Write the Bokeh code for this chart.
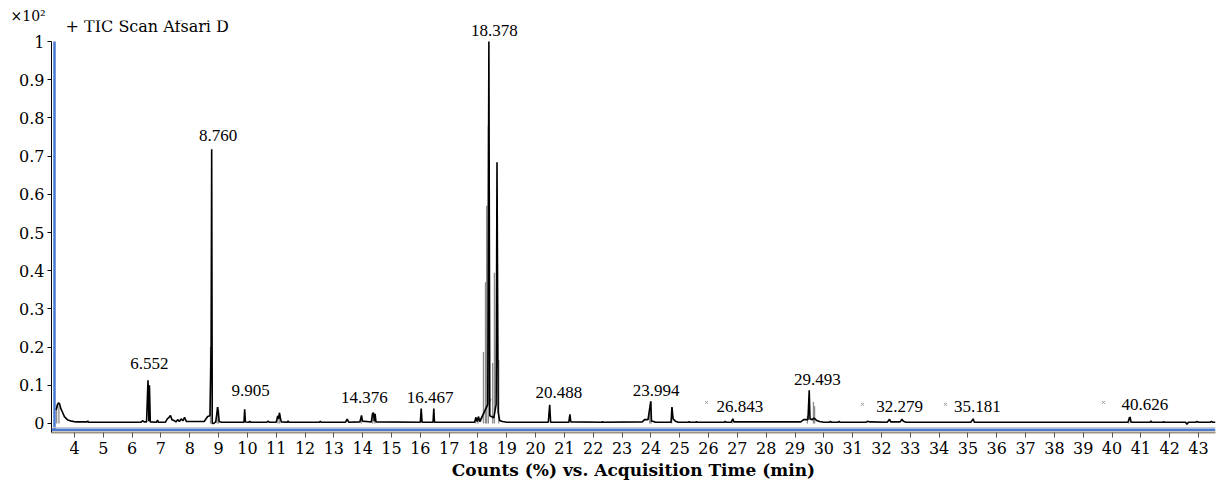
from bokeh.plotting import figure
from bokeh.models import Range1d, FixedTicker, Span, Label, LabelSet, ColumnDataSource, Title
from bokeh.embed import file_html
from bokeh.resources import INLINE

# ---------------- data ----------------
# main (black) TIC trace: acquisition time (min) vs counts (x10^2 %)
black_t = [3.36, 3.40, 3.44, 3.48, 3.52, 3.58, 3.65, 3.75, 3.90, 4.05,
           4.44, 4.46, 4.48, 6.30, 6.36, 6.42, 6.50, 6.55, 6.58, 6.60, 6.63,
           6.85, 6.88, 6.91, 7.15, 7.22, 7.28, 7.33, 7.38, 7.45, 7.52, 7.58,
           7.64, 7.70, 7.76, 7.82, 7.88, 8.50, 8.62, 8.70, 8.74, 8.76, 8.78,
           8.83, 8.90, 8.97, 9.02, 9.10, 9.88, 9.905, 9.93, 10.05, 10.08, 10.11,
           10.68, 10.72, 10.76, 11.00, 11.05, 11.08, 11.11, 11.15, 11.18,
           11.38, 11.41, 11.44, 12.50, 12.53, 12.56, 13.40, 13.46, 13.52,
           13.90, 13.93, 13.96, 13.99, 14.30, 14.34, 14.376, 14.40, 14.43, 14.46,
           16.00, 16.03, 16.06, 16.44, 16.467, 16.49, 17.88, 17.93, 17.97,
           18.02, 18.06, 18.34, 18.378, 18.41, 18.55, 18.63, 18.66, 18.70,
           18.75, 18.85, 19.00, 20.44, 20.488, 20.52, 21.15, 21.19, 21.22,
           22.30, 22.32, 22.34, 23.70, 23.78, 23.90, 23.994, 24.02, 24.10,
           24.15, 24.70, 24.73, 24.77, 24.85, 24.95, 25.30, 25.33, 25.36,
           25.55, 25.58, 25.61, 26.55, 26.58, 26.61, 26.78, 26.843, 26.88,
           29.20, 29.30, 29.45, 29.493, 29.52, 29.60, 29.66, 29.75, 29.85,
           30.00, 30.20, 30.23, 30.26, 30.50, 30.53, 30.56, 31.00, 31.48,
           31.52, 31.60, 32.20, 32.279, 32.32, 32.65, 32.71, 32.76, 32.85,
           35.10, 35.181, 35.22, 40.55, 40.626, 40.66, 41.32, 41.35, 41.38,
           41.76, 41.79, 41.82, 42.55, 42.60, 42.65, 42.90, 42.95, 43.00,
           43.40, 43.45, 43.50, 43.59]
black_y = [0.035, 0.045, 0.054, 0.052, 0.040, 0.030, 0.018, 0.010, 0.006, 0.004,
           0.004, 0.007, 0.003, 0.003, 0.007, 0.004, 0.004, 0.113, 0.006, 0.100, 0.004,
           0.003, 0.009, 0.003, 0.003, 0.012, 0.016, 0.021, 0.010, 0.008, 0.004, 0.010,
           0.005, 0.012, 0.007, 0.016, 0.005, 0.005, 0.018, 0.020, 0.200, 0.718, 0.000,
           0.000, 0.004, 0.043, 0.005, 0.003, 0.003, 0.037, 0.004, 0.003, 0.006, 0.003,
           0.003, 0.006, 0.003, 0.003, 0.020, 0.012, 0.028, 0.012, 0.004,
           0.003, 0.007, 0.003, 0.003, 0.006, 0.003, 0.003, 0.011, 0.003,
           0.004, 0.012, 0.021, 0.006, 0.004, 0.026, 0.028, 0.006, 0.025, 0.004,
           0.003, 0.039, 0.003, 0.003, 0.039, 0.003, 0.003, 0.016, 0.005,
           0.018, 0.005, 0.050, 1.000, 0.020, 0.015, 0.050, 0.684, 0.030,
           0.008, 0.005, 0.003, 0.003, 0.049, 0.003, 0.003, 0.024, 0.004,
           0.003, 0.005, 0.003, 0.004, 0.010, 0.010, 0.058, 0.006, 0.005,
           0.003, 0.003, 0.043, 0.012, 0.006, 0.003, 0.003, 0.005, 0.003,
           0.003, 0.005, 0.003, 0.003, 0.006, 0.003, 0.003, 0.012, 0.004,
           0.004, 0.010, 0.010, 0.087, 0.012, 0.010, 0.014, 0.008, 0.005,
           0.003, 0.003, 0.006, 0.003, 0.003, 0.006, 0.003, 0.003, 0.003,
           0.006, 0.004, 0.003, 0.011, 0.004, 0.004, 0.011, 0.006, 0.003,
           0.003, 0.012, 0.003, 0.003, 0.017, 0.003, 0.003, 0.007, 0.003,
           0.003, 0.005, 0.003, 0.003, -0.002, 0.003, 0.003, 0.005, 0.003,
           0.003, 0.005, 0.003, 0.003]

# grey (integrated / overlapping) component peaks
gray_t = [3.38, 3.46, 8.72, 8.95, 9.00, 11.06, 11.12, 13.95, 14.35, 14.42,
          17.92, 18.00, 18.19, 18.26, 18.30, 18.36, 18.51, 18.57, 18.72,
          23.96, 24.00, 24.72, 26.82, 29.43, 29.64, 29.68, 40.58]
gray_h = [0.050, 0.045, 0.200, 0.043, 0.035, 0.020, 0.025, 0.018, 0.024, 0.022,
          0.016, 0.016, 0.187, 0.370, 0.570, 0.780, 0.158, 0.395, 0.166,
          0.035, 0.058, 0.040, 0.010, 0.020, 0.056, 0.045, 0.017]
ramp_t = [18.08, 18.45]
ramp_y = [0.004, 0.065]

# peak retention-time labels
peak_labels = ["6.552", "8.760", "9.905", "14.376", "16.467", "18.378", "20.488",
               "23.994", "26.843", "29.493", "32.279", "35.181", "40.626"]
label_x = [6.60, 8.98, 10.11, 14.06, 16.34, 18.57, 20.81, 24.18, 27.09, 29.78,
           32.63, 35.33, 41.14]
label_y = [0.158, 0.755, 0.087, 0.068, 0.068, 1.029, 0.082, 0.087, 0.045, 0.116,
           0.045, 0.045, 0.050]
mark_x = [25.93, 31.34, 34.22, 39.70]
mark_y = [0.055, 0.050, 0.050, 0.055]

x_ticks = list(range(4, 44))
y_ticks = [0, 0.1, 0.2, 0.3, 0.4, 0.5, 0.6, 0.7, 0.8, 0.9, 1]
y_tick_labels = ["0", "0.1", "0.2", "0.3", "0.4", "0.5", "0.6", "0.7", "0.8", "0.9", "1"]

FONT = "DejaVu Serif"
BLUE = "#4a7ad0"
X0, X1 = 3.202, 43.59
Y0, Y1 = -0.0237, 1.0553

# ---------------- figure ----------------
p = figure(width=1219, height=498, output_backend="svg", toolbar_location=None,
           x_range=Range1d(X0, X1), y_range=Range1d(Y0, Y1),
           min_border_left=51, min_border_right=4, min_border_top=20,
           min_border_bottom=66)
p.outline_line_color = None
p.xgrid.visible = False
p.ygrid.visible = False

p.add_layout(Title(text="×10²", align="left", offset=-41, standoff=-7,
                   text_font=FONT, text_font_size="14px", text_font_style="normal",
                   text_color="black"), "above")

# axes
p.yaxis.bounds = (Y0, 1.0)
p.yaxis.ticker = FixedTicker(ticks=y_ticks)
p.yaxis.major_label_overrides = {t: s for t, s in zip(y_ticks, y_tick_labels)}
p.yaxis.minor_tick_line_color = None
p.yaxis.major_tick_out = 4
p.yaxis.major_tick_in = 0
p.yaxis.axis_line_color = "black"
p.yaxis.major_tick_line_color = "black"
p.yaxis.major_label_text_font = FONT
p.yaxis.major_label_text_font_size = "16px"
p.yaxis.major_label_text_color = "black"
p.yaxis.major_label_standoff = 3

p.xaxis.ticker = FixedTicker(ticks=x_ticks)
p.xaxis.minor_tick_line_color = None
p.xaxis.major_tick_out = 5
p.xaxis.major_tick_in = 0
p.xaxis.axis_line_color = "#9d9385"
p.xaxis.axis_line_width = 2
p.xaxis.major_tick_line_color = "#555555"
p.xaxis.major_label_text_font = FONT
p.xaxis.major_label_text_font_size = "16px"
p.xaxis.major_label_text_color = "black"
p.xaxis.major_label_standoff = 4
p.xaxis.axis_label = "Counts (%) vs. Acquisition Time (min)"
p.xaxis.axis_label_text_font = FONT
p.xaxis.axis_label_text_font_style = "bold"
p.xaxis.axis_label_text_font_size = "17px"
p.xaxis.axis_label_text_color = "black"
p.xaxis.axis_label_standoff = 3

# blue frame lines
p.segment(x0=[3.306], y0=[-0.0166], x1=[3.306], y1=[1.0], line_color=BLUE, line_width=2.5)
p.add_layout(Span(location=-0.0105, dimension="width", line_color="#c9c9c9", line_width=1))
p.add_layout(Span(location=-0.0166, dimension="width", line_color=BLUE, line_width=2.5))

# traces
p.segment(x0=gray_t, y0=0.0, x1=gray_t, y1=gray_h, line_color="#8c8c8c", line_width=1.3)
p.line(ramp_t, ramp_y, line_color="#8c8c8c", line_width=1.2)
p.line(black_t, black_y, line_color="black", line_width=1.6)
p.scatter(mark_x, mark_y, marker="x", size=4, line_color="#999999", line_width=1)

src = ColumnDataSource(dict(x=label_x, y=label_y, text=peak_labels))
p.add_layout(LabelSet(x="x", y="y", text="text", source=src, text_align="center",
                      text_baseline="middle", text_font=FONT, text_font_size="17px",
                      text_color="black"))

p.add_layout(Label(x=3.69, y=1.0395, text="+ TIC Scan Afsari D", text_align="left",
                   text_baseline="middle", text_font=FONT, text_font_size="16px",
                   text_color="black"))

open("out.html", "w").write(file_html(p, INLINE))
